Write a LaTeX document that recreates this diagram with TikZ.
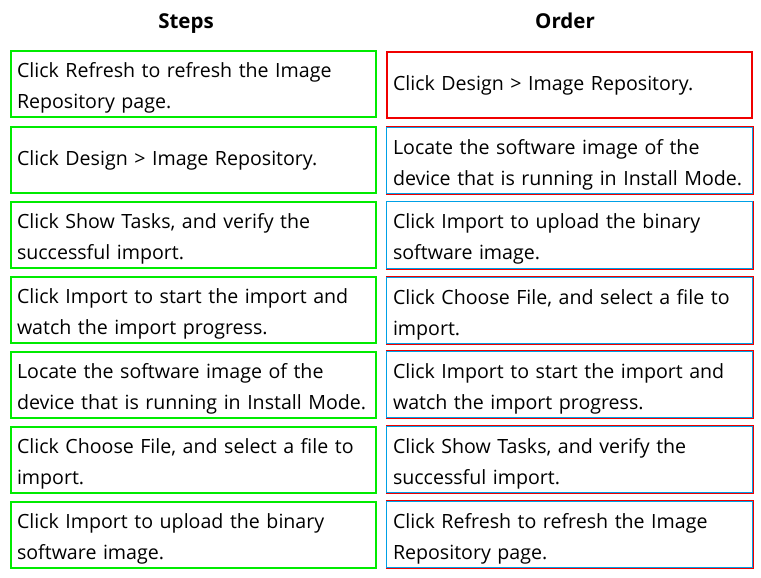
\documentclass[tikz,border=0pt]{standalone}
\usepackage{fontspec}
\setmainfont{Open Sans}
\definecolor{stepgreen}{RGB}{0,235,0}
\definecolor{ordred}{RGB}{240,0,0}
\definecolor{ordblue}{RGB}{0,160,230}

\begin{document}
\begin{tikzpicture}[x=1pt,y=-1pt]

  \tikzset{
    stepbox/.style={
      rectangle,
      draw=stepgreen,
      line width=2pt,
      minimum width=365pt,
      minimum height=66pt,
      text width=353pt,
      inner xsep=6pt,
      align=left,
      font=\fontsize{19.6}{31}\selectfont
    },
    orderbox/.style={
      stepbox,
      draw=ordred,
      line width=1pt,
      minimum width=367pt,
      minimum height=68pt
    },
    twoline/.style={execute at begin node={\rule{0pt}{23.5pt}}},
    head/.style={font=\bfseries\fontsize{20.5}{22}\selectfont, text height=14pt, text depth=4pt}
  }

  \useasboundingbox (0,0) rectangle (761,578);

  \node[head] (hsteps) at (186,24) {Steps};
  \node[head] (horder) at (565,24) {Order};

  % steps column
  \node[stepbox, twoline] (s1) at (193.5,84)  {Click Refresh to refresh the Image\\Repository page.};
  \node[stepbox] (s2) at (193.5,160) {Click Design > Image Repository.};
  \node[stepbox, twoline] (s3) at (193.5,234.5) {Click Show Tasks, and verify the\\successful import.};
  \node[stepbox, twoline] (s4) at (193.5,310) {Click Import to start the import and\\watch the import progress.};
  \node[stepbox, twoline] (s5) at (193.5,384.5) {Locate the software image of the\\device that is running in Install Mode.};
  \node[stepbox, twoline] (s6) at (193.5,459.5) {Click Choose File, and select a file to\\import.};
  \node[stepbox, twoline] (s7) at (193.5,534.5) {Click Import to upload the binary\\software image.};

  % order column
  \node[orderbox, line width=2pt, minimum width=365pt, minimum height=66pt] (o1) at (569.5,85) {Click Design > Image Repository.};
  \node[orderbox, twoline] (o2) at (569.5,160.5) {Locate the software image of the\\device that is running in Install Mode.};
  \node[orderbox, twoline] (o3) at (569.5,235) {Click Import to upload the binary\\software image.};
  \node[orderbox, twoline] (o4) at (569.5,310.5) {Click Choose File, and select a file to\\import.};
  \node[orderbox, twoline] (o5) at (569.5,384.5) {Click Import to start the import and\\watch the import progress.};
  \node[orderbox, twoline] (o6) at (569.5,459.5) {Click Show Tasks, and verify the\\successful import.};
  \node[orderbox, twoline] (o7) at (569.5,534.5) {Click Refresh to refresh the Image\\Repository page.};

  \foreach \n in {o2,o3,o4,o5,o6,o7}
    \draw[ordblue, line width=1pt] ([shift={(1.2pt,-1.2pt)}]\n.north west) rectangle ([shift={(-1.2pt,1.2pt)}]\n.south east);

\end{tikzpicture}
\end{document}
